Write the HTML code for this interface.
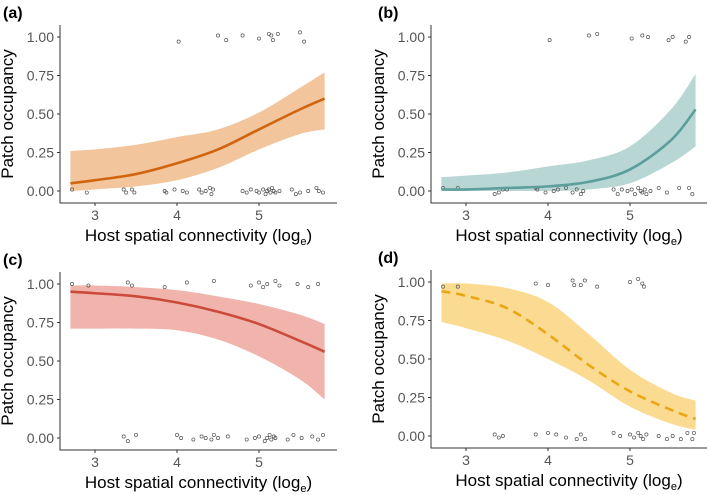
<!DOCTYPE html>
<html><head><meta charset="utf-8"><style>
body{margin:0;background:#fff;}
svg{display:block;font-family:"Liberation Sans",Arial,sans-serif;}
</style></head><body>
<svg id="chart" width="709" height="495" viewBox="0 0 709 495"></svg>
<script>
const curveX = [2.7, 3.0, 3.5, 4.0, 4.5, 5.0, 5.5, 5.8];
const fitA = [0.05, 0.07, 0.11, 0.18, 0.27, 0.40, 0.53, 0.60];
const lowA = [0.00, 0.01, 0.03, 0.07, 0.15, 0.27, 0.37, 0.40];
const upA  = [0.26, 0.27, 0.30, 0.35, 0.40, 0.51, 0.67, 0.77];
const fitB = [0.01, 0.01, 0.02, 0.03, 0.06, 0.14, 0.33, 0.53];
const lowB = [0.00, 0.00, 0.00, 0.00, 0.01, 0.05, 0.18, 0.29];
const upB  = [0.09, 0.10, 0.12, 0.16, 0.20, 0.29, 0.53, 0.76];
const fitC = [0.95, 0.94, 0.92, 0.88, 0.82, 0.74, 0.63, 0.56];
const lowC = [0.71, 0.71, 0.71, 0.70, 0.64, 0.53, 0.38, 0.25];
const upC  = [0.99, 0.99, 0.98, 0.96, 0.92, 0.87, 0.80, 0.74];
const fitD = [0.94, 0.91, 0.83, 0.66, 0.46, 0.29, 0.17, 0.11];
const lowD = [0.74, 0.70, 0.62, 0.50, 0.36, 0.19, 0.08, 0.04];
const upD  = [0.99, 0.99, 0.96, 0.87, 0.66, 0.43, 0.28, 0.23];
const ptsAx = [2.72,2.9,3.35,3.38,3.45,3.48,3.85,3.87,3.97,4.07,4.12,4.27,4.3,4.35,4.4,4.42,4.44,4.8,4.85,4.9,4.97,5.0,5.05,5.08,5.1,5.12,5.14,5.16,5.18,5.2,5.25,5.4,5.45,5.5,5.6,5.7,5.73,5.78, 4.02,4.5,4.6,4.8,5.0,5.12,5.15,5.17,5.23,5.5,5.55];
const ptsAy = [0.01,-0.01,0.01,-0.01,0.01,-0.01,0.0,-0.01,0.01,0.0,-0.01,0.01,-0.01,0.0,0.02,-0.02,0.01,0.0,-0.01,0.01,0.0,-0.01,0.01,-0.02,0.0,0.01,-0.01,0.02,0.0,-0.01,0.0,0.01,-0.02,-0.01,0.0,0.02,0.0,-0.01, 0.97,1.01,0.98,1.01,0.99,1.02,1.01,0.98,1.02,1.03,0.97];
const ptsBx = [2.72,2.9,3.35,3.4,3.45,3.5,3.85,3.87,3.97,4.07,4.12,4.22,4.3,4.35,4.4,4.43,4.8,4.85,4.9,4.97,5.02,5.06,5.1,5.13,5.15,5.18,5.2,5.25,5.35,5.45,5.6,5.72,5.76, 4.02,4.5,4.6,5.02,5.15,5.22,5.47,5.52,5.68,5.72];
const ptsBy = [0.02,0.02,-0.02,-0.01,0.01,0.01,0.02,0.01,-0.01,0.0,0.01,0.02,-0.01,0.01,-0.02,0.0,0.01,-0.02,0.01,0.0,0.01,-0.02,0.02,0.0,-0.01,0.01,-0.02,0.0,0.02,-0.01,0.02,0.02,-0.02, 0.98,1.01,1.02,0.99,1.01,1.0,0.98,1.0,0.97,1.0];
const ptsCx = [2.72,2.92,3.35,3.4,3.5,4.0,4.05,4.2,4.3,4.35,4.42,4.45,4.5,4.62,4.85,4.95,5.0,5.07,5.1,5.13,5.15,5.18,5.2,5.35,5.42,5.52,5.65,5.72,5.78, 3.4,3.45,3.85,4.12,4.45,4.9,5.0,5.05,5.1,5.2,5.25,5.47,5.6,5.72];
const ptsCy = [1.0,0.99,0.01,-0.02,0.02,0.02,0.0,-0.01,0.01,0.0,-0.01,0.02,0.0,0.01,-0.01,0.0,0.01,-0.02,0.0,0.02,-0.01,0.01,0.0,-0.01,0.02,0.0,0.01,-0.01,0.02, 1.01,0.99,0.98,1.01,1.02,0.99,1.01,0.98,1.0,1.02,0.99,1.0,0.98,1.0];
const ptsDx = [2.72,2.9,3.85,4.0,4.3,4.32,4.4,4.45,4.6,5.0,5.1,5.15,5.17, 3.35,3.4,3.45,3.85,4.0,4.1,4.22,4.35,4.4,4.45,4.8,4.88,5.0,5.05,5.1,5.13,5.16,5.2,5.35,5.45,5.52,5.62,5.7,5.76,5.78];
const ptsDy = [0.97,0.97,0.99,0.98,1.01,0.98,0.98,1.01,0.97,1.0,1.02,0.99,0.97, 0.01,-0.01,0.0,0.01,0.02,0.01,-0.01,-0.02,0.01,-0.02,0.02,0.0,0.01,-0.01,0.02,0.0,-0.02,0.01,0.0,-0.02,0.0,-0.02,0.02,-0.02,0.02];
const yTicks = [0, 0.25, 0.5, 0.75, 1];
const yTickLabels = ["0.00","0.25","0.50","0.75","1.00"];
const xTicks = [3, 4, 5];
const xTickLabels = ["3","4","5"];

const NS = "http://www.w3.org/2000/svg";
const svg = document.getElementById('chart');
function mk(tag, attrs, parent){const e=document.createElementNS(NS,tag);for(const k in attrs)e.setAttribute(k,attrs[k]);(parent||svg).appendChild(e);return e;}
// Catmull-Rom smooth path through points; first command cmd ('M' or 'L')
function smooth(pts, cmd){
  let d = cmd + pts[0][0] + ',' + pts[0][1];
  for(let i=0;i<pts.length-1;i++){
    const p0 = pts[i-1]||pts[i], p1=pts[i], p2=pts[i+1], p3=pts[i+2]||pts[i+1];
    const c1x=p1[0]+(p2[0]-p0[0])/6, c1y=p1[1]+(p2[1]-p0[1])/6;
    const c2x=p2[0]-(p3[0]-p1[0])/6, c2y=p2[1]-(p3[1]-p1[1])/6;
    d += ` C${c1x},${c1y} ${c2x},${c2y} ${p2[0]},${p2[1]}`;
  }
  return d;
}

const panels = [
 {id:'a', ox:0, oy:0, left:60, right:337, x3:95, unit:82, fit:fitA, low:lowA, up:upA, px:ptsAx, py:ptsAy, fill:'#f2c59c', line:'#d0640f', dash:null},
 {id:'b', ox:354, oy:0, left:77, right:353, x3:112, unit:82, fit:fitB, low:lowB, up:upB, px:ptsBx, py:ptsBy, fill:'#b7d6d4', line:'#5c9e9b', dash:null},
 {id:'c', ox:0, oy:247, left:60, right:337, x3:95, unit:82, fit:fitC, low:lowC, up:upC, px:ptsCx, py:ptsCy, fill:'#f1b4ac', line:'#cb4a3b', dash:null},
 {id:'d', ox:354, oy:245, left:77, right:353, x3:112, unit:82, fit:fitD, low:lowD, up:upD, px:ptsDx, py:ptsDy, fill:'#fbdb92', line:'#e9a714', dash:'9,6'}
];

panels.forEach(p=>{
  const g = mk('g',{transform:`translate(${p.ox},${p.oy})`});
  
  
  const xs = v => p.x3 + (v-3)*p.unit;
  const ys = v => 191 - v*154;
  const upPts = curveX.map((x,i)=>[xs(x),ys(p.up[i])]);
  const lowPts = curveX.map((x,i)=>[xs(x),ys(p.low[i])]).reverse();
  const rib = mk('path',{d:smooth(upPts,'M')+' '+smooth(lowPts,'L')+'Z', fill:p.fill, stroke:'none'}, g);
  
  
  p.px.forEach((x,i)=>{
    const c = mk('circle',{cx:xs(x), cy:ys(p.py[i]), r:1.6, fill:'none', stroke:'#555', 'stroke-width':0.7}, g);
    
    
  });
  const fitPts = curveX.map((x,i)=>[xs(x),ys(p.fit[i])]);
  const ln = mk('path',{d:smooth(fitPts,'M'), fill:'none', stroke:p.line, 'stroke-width':2.6}, g);
  if(p.dash) ln.setAttribute('stroke-dasharray',p.dash);
  
  
  const ax = mk('path',{d:`M${p.left},25 L${p.left},203 L${p.right},203`, fill:'none', stroke:'#333', 'stroke-width':1}, g);
  
  
  yTicks.forEach((v,i)=>{
    mk('line',{x1:p.left-3,x2:p.left,y1:ys(v),y2:ys(v),stroke:'#333'},g);
    const t = mk('text',{x:p.left-6,y:ys(v)+5,'text-anchor':'end','font-size':14,fill:'#555'},g);
    t.textContent = yTickLabels[i];
    
    
  });
  xTicks.forEach((v,i)=>{
    mk('line',{x1:xs(v),x2:xs(v),y1:203,y2:206,stroke:'#333'},g);
    const t = mk('text',{x:xs(v),y:220,'text-anchor':'middle','font-size':14,fill:'#555'},g);
    t.textContent = xTickLabels[i];
    
    
  });
  const yt = mk('text',{x:0,y:0,transform:`translate(${p.left-47},114) rotate(-90)`,'text-anchor':'middle','font-size':17,fill:'#000'},g);
  yt.textContent = 'Patch occupancy';
  
  
  const xt = mk('text',{x:(p.left+p.right)/2,y:241,'text-anchor':'middle','font-size':17,fill:'#000'},g);
  xt.innerHTML = 'Host spatial connectivity (log<tspan font-size="11" dy="4">e</tspan><tspan dy="-4">)</tspan>';
  
  
  const lb = mk('text',{x:p.id==='a'||p.id==='c'?3:24,y:18,'font-size':16,'font-weight':'bold',fill:'#000'},g);
  lb.textContent = '('+p.id+')';
  
  
});
</script>
</body></html>
